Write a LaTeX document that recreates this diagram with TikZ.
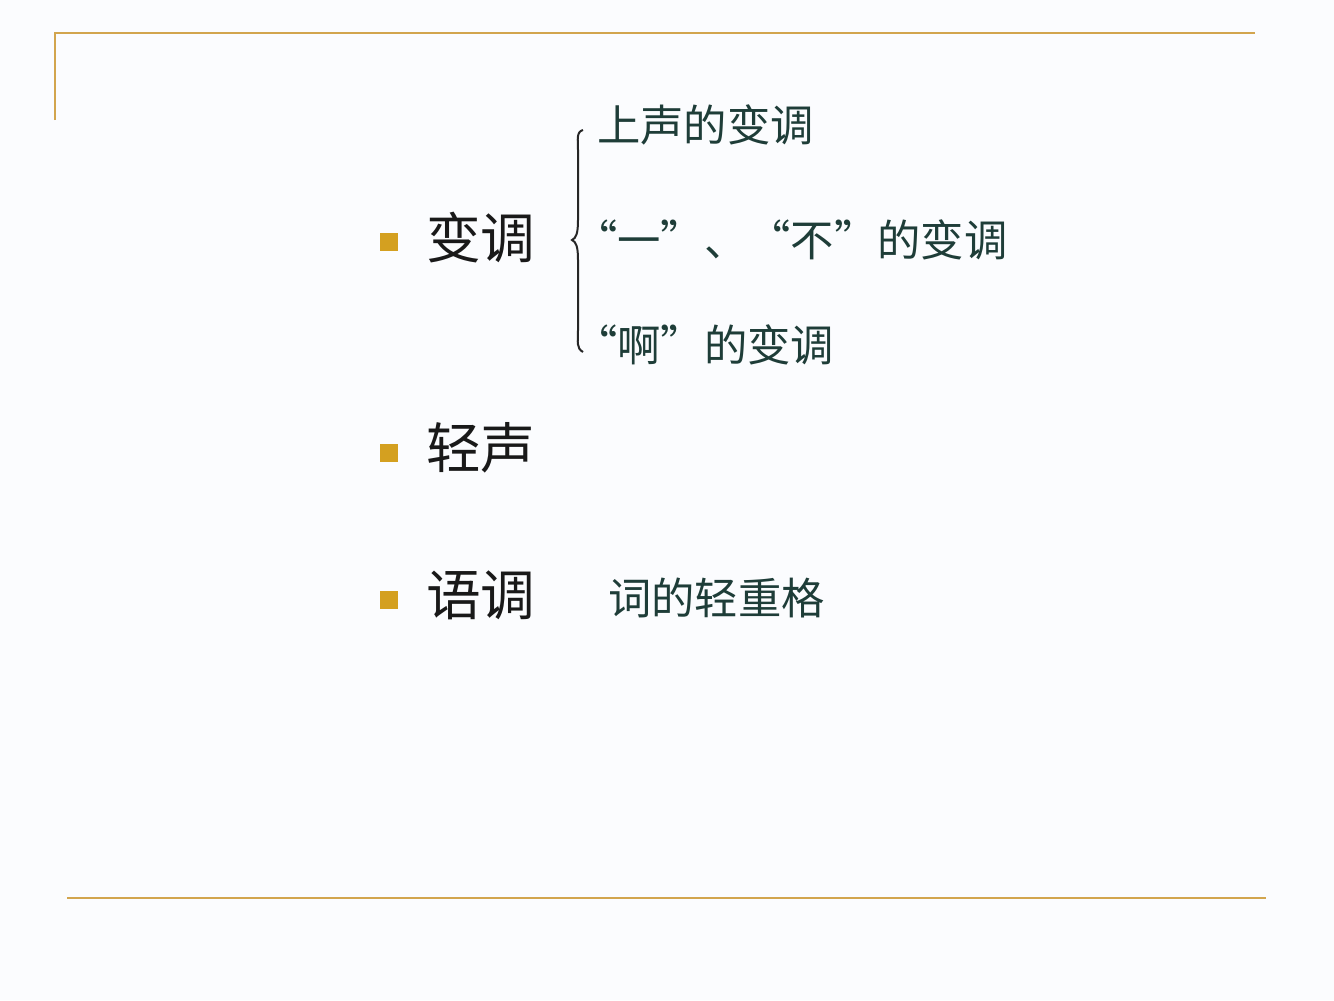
\documentclass[tikz,border=0pt]{standalone}
\usepackage{fontspec}
\newfontfamily\cjk{Noto Sans CJK SC}
\definecolor{bg}{HTML}{FBFCFE}
\definecolor{gold}{HTML}{D2A54E}
\definecolor{bul}{HTML}{D4A020}
\definecolor{sub}{HTML}{1E3D38}
\begin{document}
\begin{tikzpicture}[x=0.75pt,y=-0.75pt,
  main/.style={anchor=west,inner sep=0pt,font=\cjk\fontsize{41}{44}\selectfont,text=black!90},
  subt/.style={anchor=west,inner sep=0pt,font=\cjk\fontsize{32.5}{36}\selectfont,text=sub},
  bullet/.style={fill=bul,minimum size=14pt,inner sep=0pt}]
\fill[bg] (0,0) rectangle (1334,1000);
\useasboundingbox (0,0) rectangle (1334,1000);
\draw[gold,line width=1.2pt] (55,120) -- (55,33) -- (1255,33);
\draw[gold,line width=1.2pt] (67,898) -- (1266,898);
\node[bullet] (b1) at (389,242) {};
\node[bullet] (b2) at (389,453) {};
\node[bullet] (b3) at (389,600) {};
\node[main] (m1) at (426,238) {变调};
\node[main] (m2) at (426,448) {轻声};
\node[main] (m3) at (426,595) {语调};
\draw[black!85,line width=1.5pt] (583,130) .. controls (576,132) and (578,140) .. (578,150) -- (578,220) .. controls (578,234) and (576,238) .. (572,240) .. controls (576,242) and (578,246) .. (578,260) -- (578,330) .. controls (578,342) and (576,348) .. (583,352);
\node[subt] (s1) at (597,125) {上声的变调};
\node[subt] (s2) at (574,240) {“一”、“不”的变调};
\node[subt] (s3) at (574,345) {“啊”的变调};
\node[subt] (s4) at (608,598) {词的轻重格};
\end{tikzpicture}
\end{document}
